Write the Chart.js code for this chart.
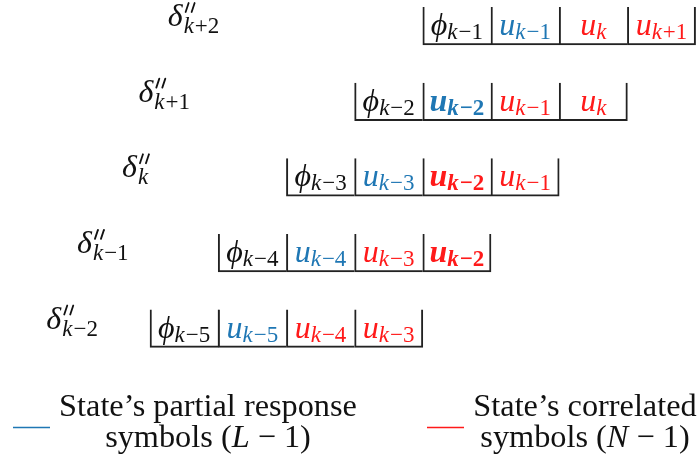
<!DOCTYPE html>
<html>
<head>
<meta charset="utf-8">
<script src="https://cdn.jsdelivr.net/npm/chart.js@4.4.1/dist/chart.umd.min.js"></script>
<style>
  body { margin: 0; background: #fff; }
  #wrap { width: 699px; height: 464px; position: relative; }
</style>
</head>
<body>
<div id="wrap"><canvas id="stateChart"></canvas></div>
<script>
// trellis states, top row first
const states = ['k+2', 'k+1', 'k', 'k−1', 'k−2'];
// time index of the phi cell that opens each state window (relative to k)
const phiIndex = [-1, -2, -3, -4, -5];
const phiLabels = ['k−1', 'k−2', 'k−3', 'k−4', 'k−5'];
// subscripts of the u symbols following phi
const symbolLabels = [
  ['k−1', 'k', 'k+1'],
  ['k−2', 'k−1', 'k'],
  ['k−3', 'k−2', 'k−1'],
  ['k−4', 'k−3', 'k−2'],
  ['k−5', 'k−4', 'k−3']
];
// p = partial response symbol, c = correlated symbol
const symbolKinds = [
  ['p', 'c', 'c'],
  ['p', 'c', 'c'],
  ['p', 'c', 'c'],
  ['p', 'c', 'c'],
  ['p', 'c', 'c']
];
const boldSymbols = [
  [false, false, false],
  [true, false, false],
  [false, true, false],
  [false, false, true],
  [false, false, false]
];
const legendTitles = ['State’s partial response', 'State’s correlated'];
const legendVars = ['L', 'N'];

// styling / layout
const BLUE = '#1f77b4';
const RED = '#ff1a1a';
const INK = '#111';
const MAIN = 32, SUB = 23;
const deltaX = [-4.74, -5.17, -5.41, -6.07, -6.52];   // left edge of the delta labels (x scale units)
const legendX = [208, 585];
const legendLineX = [[13, 50], [427, 464]];
const kindColor = { p: BLUE, c: RED };

function font(size, italic, bold) {
  return (italic ? 'italic ' : '') + (bold ? 'bold ' : '') + size + 'px "Liberation Serif", "DejaVu Serif", serif';
}

// split a subscript like "k−1" into italic letters and upright digits/signs
function subParts(s, bold, dy) {
  const parts = [];
  for (const ch of s) {
    const it = /[a-zA-Z]/.test(ch);
    const last = parts[parts.length - 1];
    if (last && last.italic === it) last.text += ch;
    else parts.push({ text: ch, italic: it, bold: bold, size: SUB, dy: dy, kern: it ? 0 : 1 });
  }
  return parts;
}

function drawRun(ctx, parts, x, y, color, align) {
  let w = 0;
  parts.forEach(p => {
    ctx.font = font(p.size, p.italic, p.bold);
    p.w = ctx.measureText(p.text).width;
    w += p.w + (p.kern || 0);
  });
  let cx = align === 'center' ? x - w / 2 : x;
  ctx.fillStyle = color;
  ctx.textAlign = 'left';
  ctx.textBaseline = 'alphabetic';
  parts.forEach(p => {
    ctx.font = font(p.size, p.italic, p.bold);
    cx += (p.kern || 0);
    ctx.fillText(p.text, cx, y + (p.dy || 0));
    cx += p.w;
  });
  return w;
}

const cellText = {
  id: 'cellText',
  afterDatasetsDraw(chart) {
    const ctx = chart.ctx;
    const xs = chart.scales.x;
    ctx.save();
    chart.data.datasets.forEach((ds, c) => {
      chart.getDatasetMeta(c).data.forEach((el, r) => {
        const p = el.getProps(['x', 'base', 'y'], true);
        const cx = (p.x + p.base) / 2;
        const by = p.y + 9;
        if (c === 0) {
          drawRun(ctx, [{ text: 'ϕ', italic: true, size: MAIN }].concat(subParts(phiLabels[r], false, 4)), cx, by, INK, 'center');
        } else {
          const bold = boldSymbols[r][c - 1];
          const col = kindColor[symbolKinds[r][c - 1]];
          drawRun(ctx, [{ text: 'u', italic: true, bold: bold, size: MAIN }].concat(subParts(symbolLabels[r][c - 1], bold, 4)), cx, by, col, 'center');
        }
      });
    });
    // delta'' labels on the left of each state row
    const ys = chart.scales.y;
    states.forEach((s, r) => {
      const y = ys.getPixelForValue(r);
      const x0 = xs.getPixelForValue(deltaX[r]);
      ctx.font = font(MAIN, true, false);
      ctx.fillStyle = INK;
      ctx.textAlign = 'left';
      ctx.textBaseline = 'alphabetic';
      ctx.fillText('δ', x0, y);
      const dw = ctx.measureText('δ').width;
      // double prime as two slanted strokes
      ctx.strokeStyle = INK;
      ctx.lineWidth = 1.8;
      ctx.lineCap = 'round';
      [0, 6].forEach(off => {
        const px = x0 + dw + 3 + off;
        ctx.beginPath();
        ctx.moveTo(px + 3, y - 23);
        ctx.lineTo(px, y - 14);
        ctx.stroke();
      });
      drawRun(ctx, subParts(s, false, 0), x0 + dw + 1, y + 7, INK, 'left');
    });
    ctx.restore();
  }
};

const legendBlock = {
  id: 'legendBlock',
  afterDraw(chart) {
    const ctx = chart.ctx;
    ctx.save();
    ctx.font = '100px "Liberation Serif", serif';
    const size = Math.round(100 * 298 / ctx.measureText(legendTitles[0]).width * 10) / 10;
    [BLUE, RED].forEach((col, i) => {
      ctx.strokeStyle = col;
      ctx.lineWidth = 1.5;
      ctx.beginPath();
      ctx.moveTo(legendLineX[i][0], 427.5);
      ctx.lineTo(legendLineX[i][1], 427.5);
      ctx.stroke();
      drawRun(ctx, [{ text: legendTitles[i], size: size }], legendX[i], 416, INK, 'center');
      drawRun(ctx, [
        { text: 'symbols (', size: size },
        { text: legendVars[i], italic: true, size: size },
        { text: ' − 1)', size: size }
      ], legendX[i], 447, INK, 'center');
    });
    ctx.restore();
  }
};

const datasets = [0, 1, 2, 3].map(c => ({
  data: phiIndex.map(p => [p + c, p + c + 1]),
  backgroundColor: 'rgba(0,0,0,0)',
  borderColor: '#222',
  borderWidth: { left: 1.3, right: c === 3 ? 1.3 : 0, bottom: 1.3, top: 0 },
  borderSkipped: false,
  barThickness: 38,
  grouped: false,
  clip: false
}));

new Chart(document.getElementById('stateChart'), {
  type: 'bar',
  data: { labels: states, datasets: datasets },
  options: {
    indexAxis: 'y',
    responsive: true,
    maintainAspectRatio: false,
    animation: false,
    layout: { padding: { top: 26, bottom: 135.5, left: 0, right: 0 } },
    scales: {
      x: { type: 'linear', min: -7.2, max: 3.05, display: false },
      y: { type: 'category', offset: false, display: false }
    },
    plugins: {
      legend: { display: false },
      tooltip: { enabled: false }
    }
  },
  plugins: [cellText, legendBlock]
});
</script>
</body>
</html>
